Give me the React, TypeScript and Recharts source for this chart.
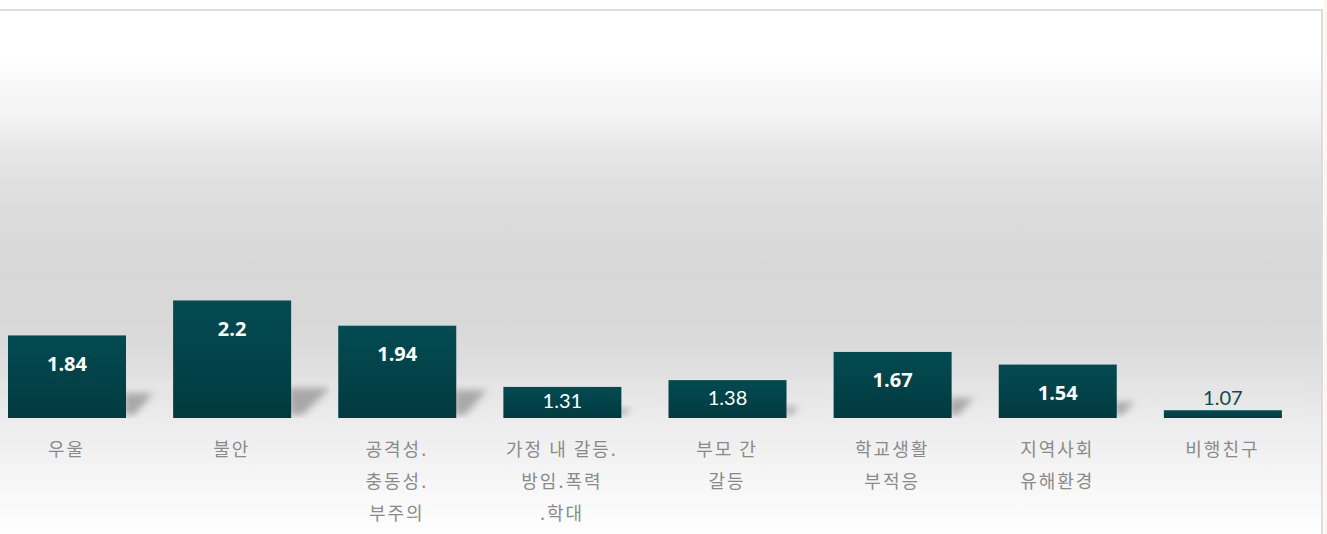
import React from "react";
import { BarChart, Bar, XAxis, YAxis, LabelList } from "recharts";

// 요인별 점수
const categories = [
  "우울",
  "불안",
  "공격성.\n충동성.\n부주의",
  "가정 내 갈등.\n방임.폭력\n.학대",
  "부모 간\n갈등",
  "학교생활\n부적응",
  "지역사회\n유해환경",
  "비행친구",
];
const scores = [1.84, 2.2, 1.94, 1.31, 1.38, 1.67, 1.54, 1.07];
const yDomain = [0.99, 5.19];

const data = categories.map((name, i) => ({ name, value: scores[i] }));

function ShadowBar(props: any) {
  const { x, y, width, height } = props;
  if (!height || height <= 0) return null;
  const b = y + height;
  const sh = Math.min(30, height * 0.3);
  const sw = height * 0.33;
  const r = x + width;
  return (
    <g>
      <rect x={x - 9} y={b - 38} width={width + 50} height={38} fill="#ffffff" opacity={0.07} />
      <polygon
        points={`${r - 2},${b - sh} ${r + sw},${b - sh} ${r + sw * 0.3},${b - 3} ${r - 2},${b - 3}`}
        fill="#999999"
        opacity={0.8}
        filter="url(#barShadowBlur)"
      />
      <rect x={x} y={y} width={width} height={height} fill="url(#barFill)" />
    </g>
  );
}

function ValueLabel(props: any) {
  const { x, y, width, height, value } = props;
  const cx = x + width / 2;
  if (value >= 1.5) {
    return (
      <text x={cx} y={y + 28} textAnchor="middle" dominantBaseline="central" fill="#ffffff"
        fontSize={20} fontWeight={700} fontFamily="'Open Sans', 'Noto Sans', sans-serif">
        {value}
      </text>
    );
  }
  if (value >= 1.2) {
    return (
      <text x={cx} y={y + height / 2 - 2} textAnchor="middle" dominantBaseline="central" fill="#ffffff"
        fontSize={20} fontFamily="Lato, sans-serif">
        {value}
      </text>
    );
  }
  return (
    <text x={cx} y={y - 13} textAnchor="middle" dominantBaseline="central" fill="#0b4d54"
      fontSize={20} fontFamily="Lato, sans-serif">
      {value}
    </text>
  );
}

function CategoryTick(props: any) {
  const { x, y, payload } = props;
  const lines = String(payload.value).split("\n");
  return (
    <text x={x} y={y} textAnchor="middle" fill="#8a8a8a" fontSize={18} letterSpacing={2}
      fontFamily="'Noto Sans CJK KR', sans-serif">
      {lines.map((l, i) => (
        <tspan key={i} x={x} dy={i === 0 ? 37.5 : 32}>{l}</tspan>
      ))}
    </text>
  );
}

export default function App() {
  return (
    <div style={{ position: "absolute", left: 0, top: 0, width: 1327, height: 534, overflow: "hidden", background: "#ffffff" }}>
      <div style={{ position: "absolute", left: 1324, top: 0, width: 3, height: 534, background: "#fbf6f1" }} />
      <div
        style={{
          position: "absolute",
          left: -10,
          top: 9,
          width: 1331,
          height: 540,
          borderTop: "2px solid #dedede",
          borderRight: "2px solid #dcdcdc",
          background:
            "linear-gradient(to bottom, #ffffff 0px, #ffffff 45px, #f7f7f7 80px, #f2f2f2 110px, #e6e6e6 140px, #dcdcdc 200px, #d7d7d7 260px, #d8d8d8 310px, #dddddd 345px, #e6e6e6 390px, #ececec 410px, #f1f1f1 440px, #f7f7f7 475px, #fcfcfc 510px, #ffffff 530px)",
        }}
      />
      <div style={{ position: "absolute", left: -16, top: 0 }}>
        <BarChart width={1321} height={534} data={data} margin={{ top: 10, right: 0, bottom: 0, left: 0 }} barSize={118}>
          <defs>
            <linearGradient id="barFill" x1="0" y1="0" x2="0" y2="1">
              <stop offset="0%" stopColor="#034b52" />
              <stop offset="100%" stopColor="#013a3f" />
            </linearGradient>
            <filter id="barShadowBlur" x="-50%" y="-50%" width="200%" height="200%">
              <feGaussianBlur stdDeviation="3.5" />
            </filter>
          </defs>
          <XAxis dataKey="name" axisLine={false} tickLine={false} tickSize={0} tickMargin={0} height={116}
            interval={0} tick={<CategoryTick />} />
          <YAxis hide domain={yDomain} allowDataOverflow />
          <Bar dataKey="value" shape={<ShadowBar />} isAnimationActive={false}>
            <LabelList dataKey="value" content={<ValueLabel />} />
          </Bar>
        </BarChart>
      </div>
    </div>
  );
}
